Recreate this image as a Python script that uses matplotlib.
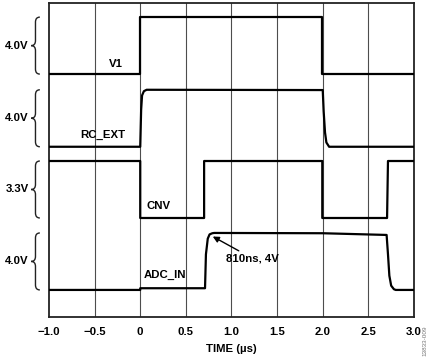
import matplotlib
matplotlib.use("Agg")
import matplotlib.pyplot as plt
from matplotlib.path import Path
from matplotlib.patches import PathPatch
import matplotlib.transforms as mtransforms

plt.rcParams["font.family"] = ["Liberation Sans", "DejaVu Sans"]
plt.rcParams["font.weight"] = "bold"

# scope traces, time in us, level in volts
v1_t = [-1.0, 0.0, 0.0, 1.99, 1.99, 3.0]
v1_v = [0.0, 0.0, 4.0, 4.0, 0.0, 0.0]

rc_t = [-1.0, 0.0, 0.01, 0.02, 0.04, 0.07, 2.0, 2.01, 2.025, 2.04, 2.07, 3.0]
rc_v = [0.0, 0.0, 2.6, 3.6, 3.9, 4.0, 3.98, 2.5, 1.0, 0.3, 0.0, 0.0]

cnv_t = [-1.0, 0.0, 0.0, 0.70, 0.70, 1.995, 1.995, 2.705, 2.715, 3.0]
cnv_v = [3.3, 3.3, 0.0, 0.0, 3.3, 3.3, 0.0, 0.0, 3.3, 3.3]

adc_t = [-1.0, 0.0, 0.0, 0.71, 0.72, 0.74, 0.76, 0.79, 0.81, 2.0, 2.70, 2.715, 2.73, 2.75, 2.78, 2.80, 3.0]
adc_v = [0.0, 0.0, 0.12, 0.12, 2.5, 3.6, 3.9, 3.98, 4.0, 3.98, 3.86, 2.5, 1.0, 0.3, 0.05, 0.0, 0.0]

names = ["V1", "RC_EXT", "CNV", "ADC_IN"]
scale_labels = ["4.0V", "4.0V", "3.3V", "4.0V"]
full_scale = [4.0, 4.0, 3.3, 4.0]
# screen position of each channel's low level (divisions of 4.0 units)
offsets = [17.05, 11.95, 6.95, 1.9]
label_pos = [(-0.27, 0.72), (-0.41, 0.8), (0.20, 0.85), (0.27, 1.05)]

traces = [(v1_t, v1_v), (rc_t, rc_v), (cnv_t, cnv_v), (adc_t, adc_v)]

FS = 8.2

fig = plt.figure(figsize=(4.35, 3.58), dpi=100)
ax = fig.add_axes([0.1126, 0.1145, 0.8391, 0.8771])

for x in [-0.5, 0.0, 0.5, 1.0, 1.5, 2.0, 2.5]:
    ax.axvline(x, color="#4d4d4d", lw=0.8, zorder=1)

trans = mtransforms.blended_transform_factory(ax.transAxes, ax.transData)
for (t, v), name, fs, off, lab, sl in zip(traces, names, full_scale, offsets, label_pos, scale_labels):
    k = 4.0 / fs
    ax.plot(t, [off + k * val for val in v], color="black", lw=1.6, zorder=3,
            solid_joinstyle="round")
    ax.text(lab[0], off + lab[1], name, ha="center", va="center", fontsize=FS,
            fontweight="bold")

    # curly brace on the left
    y0, y1 = off + 4.0, off
    ym = (y0 + y1) / 2
    r = 0.35
    xe, xb, xt = -0.025, -0.037, -0.049
    verts = [(xe, y0), (xb, y0), (xb, y0 - r), (xb, ym + r), (xb, ym), (xt, ym),
             (xb, ym), (xb, ym - r), (xb, y1 + r), (xb, y1), (xe, y1)]
    codes = [Path.MOVETO, Path.CURVE3, Path.CURVE3, Path.LINETO, Path.CURVE3, Path.CURVE3,
             Path.CURVE3, Path.CURVE3, Path.LINETO, Path.CURVE3, Path.CURVE3]
    ax.add_patch(PathPatch(Path(verts, codes), fill=False, lw=1.0, color="#222222",
                           transform=trans, clip_on=False))
    ax.text(-0.056, ym, sl, transform=trans, ha="right", va="center", fontsize=FS,
            fontweight="bold")

ax.annotate("810ns, 4V", xy=(0.795, offsets[3] + 3.75), xytext=(0.945, offsets[3] + 2.2),
            fontsize=FS, fontweight="bold", va="center", ha="left",
            arrowprops=dict(arrowstyle="-|>", color="black", lw=1.0, mutation_scale=9,
                            shrinkA=0, shrinkB=0))

ax.set_xlim(-1.0, 3.0)
ax.set_ylim(0, 22.04)
ax.set_xticks([-1.0, -0.5, 0.0, 0.5, 1.0, 1.5, 2.0, 2.5, 3.0])
ax.set_xticklabels(["\u22121.0", "\u22120.5", "0", "0.5", "1.0", "1.5", "2.0", "2.5", "3.0"],
                   fontsize=FS, fontweight="bold")
ax.set_yticks([])
ax.tick_params(axis="x", length=0, pad=7.5)
ax.set_xlabel("TIME (\u00b5s)", fontsize=FS, fontweight="bold", labelpad=5)
for s in ax.spines.values():
    s.set_linewidth(1.3)
    s.set_color("#222222")

fig.text(0.977, 0.006, "13833-009", rotation=90, fontsize=4.6, color="#777777",
         fontweight="normal", ha="center", va="bottom")

fig.savefig("out.png", dpi=100)
